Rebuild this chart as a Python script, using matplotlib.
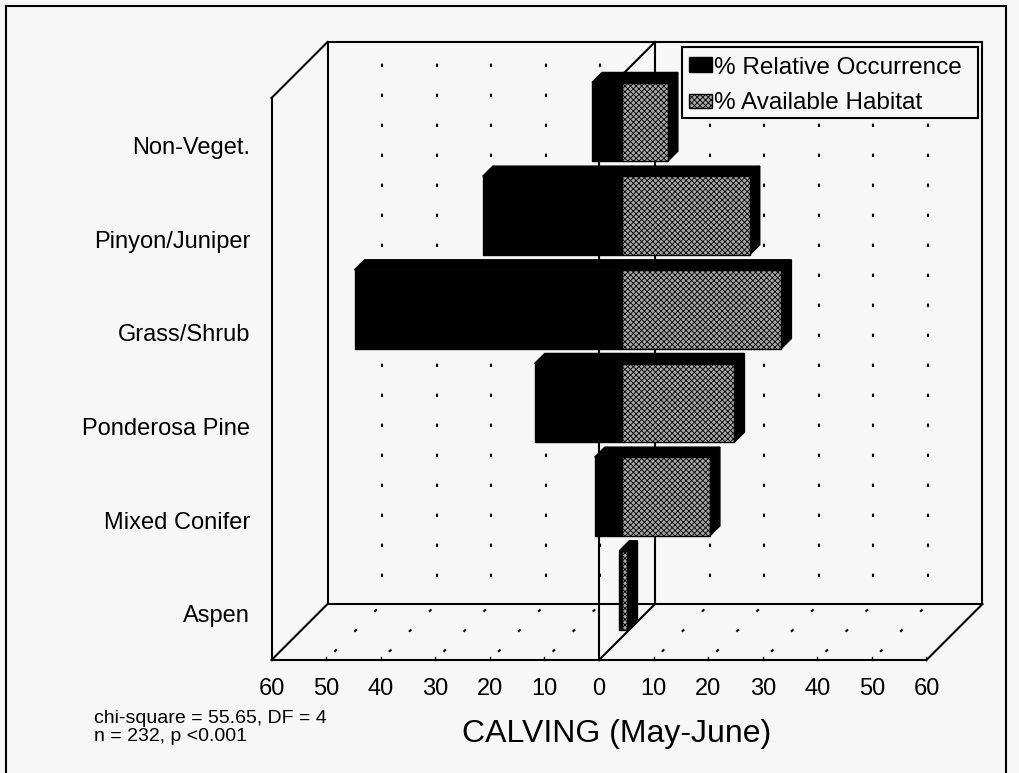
import matplotlib
matplotlib.use('Agg')
import matplotlib.pyplot as plt
from matplotlib.patches import Polygon, Rectangle

categories = ['Non-Veget.', 'Pinyon/Juniper', 'Grass/Shrub', 'Ponderosa Pine', 'Mixed Conifer', 'Aspen']
occurrence = [5.5, 25.5, 49.0, 16.0, 5.0, 0.5]   # % Relative Occurrence, drawn to the left
habitat = [8.4, 23.4, 29.2, 20.6, 16.1, 1.0]     # % Available Habitat, drawn to the right
tick_values = [-60, -50, -40, -30, -20, -10, 0, 10, 20, 30, 40, 50, 60]
tick_labels = ['60', '50', '40', '30', '20', '10', '0', '10', '20', '30', '40', '50', '60']
legend_labels = ['% Relative Occurrence', '% Available Habitat']
title = 'CALVING (May-June)'
stats_lines = ['chi-square = 55.65, DF = 4', 'n = 232, p <0.001']

plt.rcParams['font.family'] = ['Liberation Sans', 'DejaVu Sans']
plt.rcParams['hatch.linewidth'] = 0.6

W, H = 1019, 773
# pixel layout of the front plane of the fake 3d box
ZERO_PX, UNIT_PX = 599, 5.458
TOP_PX, BAND_PX = 98, 93.67
DEPTH_PX = 56
DX = DEPTH_PX / UNIT_PX
DY = -DEPTH_PX / BAND_PX
D1, D2 = 0.41, 0.59     # bar depth inside the box
HALF = 0.42             # half bar height (in categories)
n = len(categories)
lo, hi = tick_values[0], tick_values[-1]
BG = '#f7f7f7'
GRAY = '#a6a6a6'


def proj(v, c, d):
  return (v + d * DX, c + d * DY)


def seg(ax, p, q, **kw):
  a, b = proj(*p), proj(*q)
  ax.plot([a[0], b[0]], [a[1], b[1]], **kw)


def box(ax, v0, v1, c0, c1, front, top='k', side='k', hatch=None):
  quad = lambda pts: [proj(*p) for p in pts]
  ax.add_patch(Polygon(quad([(v0, c0, D1), (v1, c0, D1), (v1, c0, D2), (v0, c0, D2)]),
                       closed=True, facecolor=top, edgecolor='k', lw=1, zorder=3))
  ax.add_patch(Polygon(quad([(v1, c0, D1), (v1, c0, D2), (v1, c1, D2), (v1, c1, D1)]),
                       closed=True, facecolor=side, edgecolor='k', lw=1, zorder=3))
  ax.add_patch(Polygon(quad([(v0, c0, D1), (v1, c0, D1), (v1, c1, D1), (v0, c1, D1)]),
                       closed=True, facecolor=front, edgecolor='k', lw=1, hatch=hatch, zorder=3))


fig = plt.figure(figsize=(W / 100, H / 100), dpi=100)
fig.patch.set_facecolor(BG)
ax = fig.add_axes([0, 0, 1, 1])
ax.set_facecolor(BG)
ax.set_xlim(-ZERO_PX / UNIT_PX, (W - ZERO_PX) / UNIT_PX)
ax.set_ylim((H - TOP_PX) / BAND_PX, -TOP_PX / BAND_PX)
ax.axis('off')

solid = dict(color='k', lw=1.5, zorder=2, solid_capstyle='projecting')
dotted = dict(color='k', lw=1.5, zorder=1, linestyle=(4, (1.6, 12.8)))

# walls, floor and the zero plane
seg(ax, (lo, 0, 0), (lo, n, 0), **solid)
seg(ax, (lo, 0, 0), (lo, 0, 1), **solid)
seg(ax, (lo, 0, 1), (lo, n, 1), **solid)
seg(ax, (lo, n, 0), (lo, n, 1), **solid)
seg(ax, (lo, 0, 1), (hi, 0, 1), **solid)
seg(ax, (hi, 0, 1), (hi, n, 1), **solid)
seg(ax, (lo, n, 1), (hi, n, 1), **solid)
seg(ax, (lo, n, 0), (hi, n, 0), **solid)
seg(ax, (hi, n, 0), (hi, n, 1), **solid)
seg(ax, (0, 0, 0), (0, n, 0), **solid)
seg(ax, (0, 0, 1), (0, n, 1), **solid)
seg(ax, (0, 0, 0), (0, 0, 1), **solid)
seg(ax, (0, n, 0), (0, n, 1), **solid)

for t, lab in zip(tick_values, tick_labels):
  if t not in (lo, hi, 0):
    seg(ax, (t, 0, 1), (t, n, 1), **dotted)
    seg(ax, (t, n, 0), (t, n, 1), color='k', lw=1.5, zorder=1, linestyle=(8, (1.6, 12.0)))
  seg(ax, (t, n, 0), (t, n - 3 / BAND_PX, 0), color='k', lw=1, zorder=2)
  ax.text(t, n + 35 / BAND_PX, lab, ha='center', va='baseline', fontsize=17)

# bars
for i, (name, occ, hab) in enumerate(zip(categories, occurrence, habitat)):
  c0, c1 = i + 0.5 - HALF, i + 0.5 + HALF
  box(ax, -occ, 0, c0, c1, front='k')
  box(ax, 0, hab, c0, c1, front=GRAY, hatch='xxxxxx')
  ax.text((250 - ZERO_PX) / UNIT_PX, i + 0.5 + 9 / BAND_PX, name,
          ha='right', va='baseline', fontsize=17)

# legend
fx = lambda px: px / W
fy = lambda py: 1 - py / H
fig.add_artist(Rectangle((fx(682), fy(118)), fx(978) - fx(682), fy(47) - fy(118),
                         transform=fig.transFigure, facecolor=BG, edgecolor='k', lw=1.5, zorder=5))
fig.add_artist(Rectangle((fx(689), fy(72)), fx(712) - fx(689), fy(57) - fy(72),
                         transform=fig.transFigure, facecolor='k', edgecolor='k', lw=1, zorder=6))
fig.add_artist(Rectangle((fx(689), fy(108)), fx(712) - fx(689), fy(94) - fy(108),
                         transform=fig.transFigure, facecolor=GRAY, edgecolor='k', lw=1,
                         hatch='xxxxxx', zorder=6))
fig.text(fx(714), fy(74), legend_labels[0], fontsize=17.5, va='baseline', zorder=7)
fig.text(fx(714), fy(109), legend_labels[1], fontsize=17.5, va='baseline', zorder=7)

# captions
fig.text(fx(94), fy(723), stats_lines[0], fontsize=14, va='baseline')
fig.text(fx(94), fy(741), stats_lines[1], fontsize=14, va='baseline')
fig.text(fx(617), fy(742), title, fontsize=23, ha='center', va='baseline')

# outer frame
fig.add_artist(Rectangle((fx(6), fy(790)), fx(1006) - fx(6), fy(6) - fy(790),
                         transform=fig.transFigure, facecolor='none', edgecolor='k', lw=1.5))

fig.savefig('out.png', dpi=100, facecolor=BG)
